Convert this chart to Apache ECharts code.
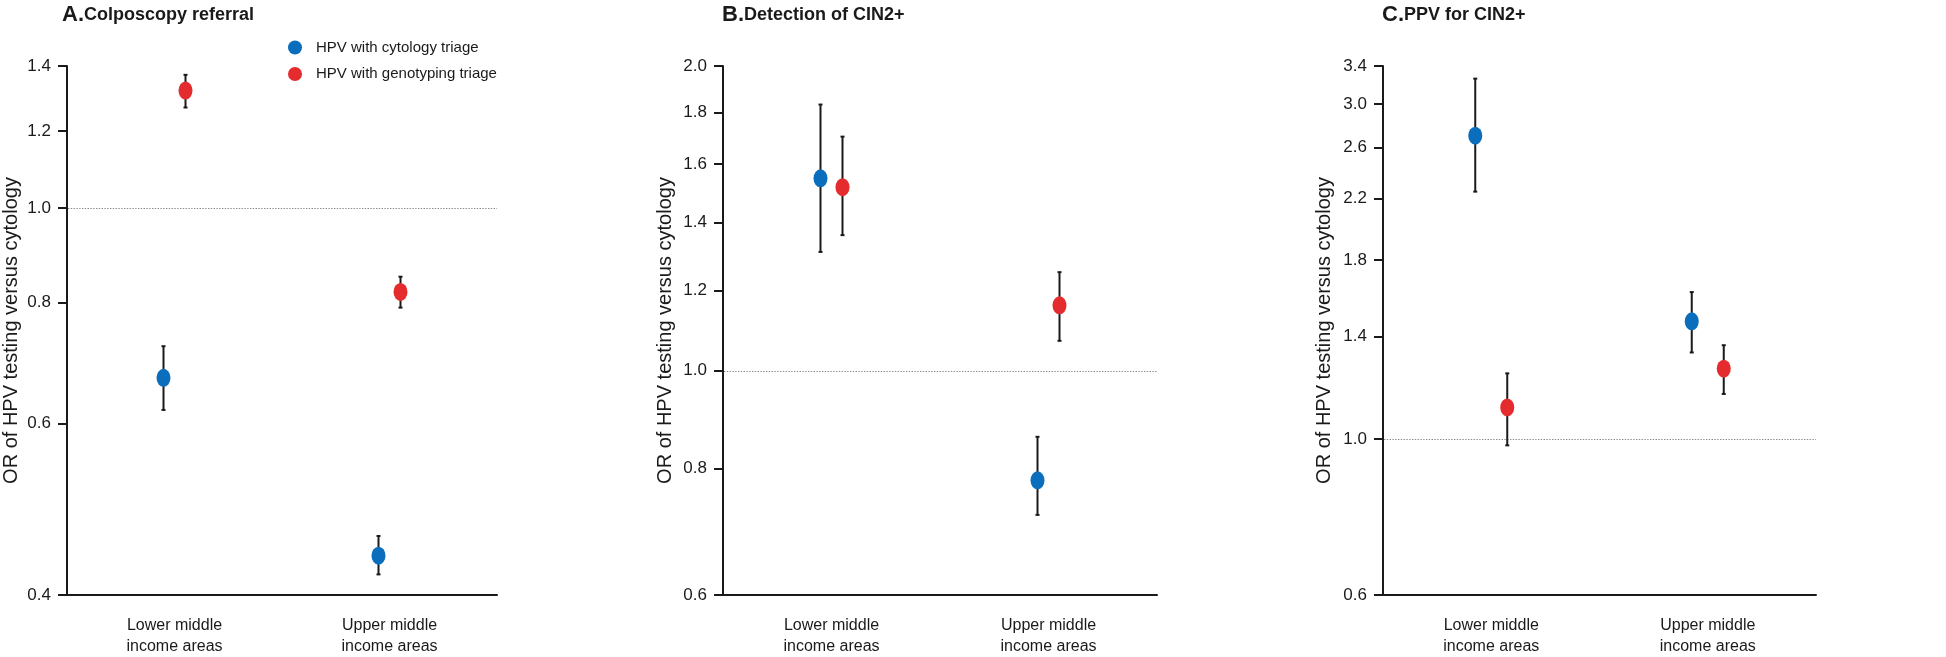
<!DOCTYPE html>
<html>
<head>
<meta charset="utf-8">
<script src="https://cdn.jsdelivr.net/npm/echarts@6/dist/echarts.min.js"></script>
<style>
html,body{margin:0;padding:0;background:#fff;}
#chart{width:1946px;height:657px;}
</style>
</head>
<body>
<div id="chart"></div>
<script>
// ---------- DATA ----------
const categories = ['Lower middle\nincome areas', 'Upper middle\nincome areas'];
const seriesNames = ['HPV with cytology triage', 'HPV with genotyping triage'];
const panelTitles = ['A.', 'B.', 'C.'];
const panelSubtitles = ['Colposcopy referral', 'Detection of CIN2+', 'PPV for CIN2+'];
const yAxisName = 'OR of HPV testing versus cytology';
const refValue = 1.0;

// Panel A: Colposcopy referral
const aTicks = [0.4, 0.6, 0.8, 1.0, 1.2, 1.4];
const aCytoOR = [0.669, 0.439];
const aCytoLo = [0.620, 0.420];
const aCytoHi = [0.721, 0.460];
const aGenoOR = [1.321, 0.820];
const aGenoLo = [1.269, 0.790];
const aGenoHi = [1.371, 0.850];

// Panel B: Detection of CIN2+
const bTicks = [0.6, 0.8, 1.0, 1.2, 1.4, 1.6, 1.8, 2.0];
const bCytoOR = [1.549, 0.779];
const bCytoLo = [1.310, 0.720];
const bCytoHi = [1.832, 0.860];
const bGenoOR = [1.518, 1.160];
const bGenoLo = [1.361, 1.070];
const bGenoHi = [1.703, 1.251];

// Panel C: PPV for CIN2+
const cTicks = [0.6, 1.0, 1.4, 1.8, 2.2, 2.6, 3.0, 3.4];
const cCytoOR = [2.706, 1.472];
const cCytoLo = [2.252, 1.329];
const cCytoHi = [3.262, 1.620];
const cGenoOR = [1.110, 1.260];
const cGenoLo = [0.980, 1.160];
const cGenoHi = [1.241, 1.361];

// ---------- LAYOUT / STYLE ----------
const colors = ['#0a6ebd', '#e42b2e'];
const gridLefts = [63, 723, 1383];
const gridWidths = [434, 434, 433];
const gridTop = 66;
const gridHeight = 532;
const dodges = [[-11, 11], [-11, 11], [-16, 16]];
const nameGaps = [46, 48, 49];
const ellipse = 'path://M0 10A10 10 0 1 0 20 10A10 10 0 1 0 0 10Z';
const font = 'Liberation Sans';
const ink = '#1a1a1a';

const panels = [
  {ticks: aTicks, groups: [[aCytoOR, aCytoLo, aCytoHi], [aGenoOR, aGenoLo, aGenoHi]]},
  {ticks: bTicks, groups: [[bCytoOR, bCytoLo, bCytoHi], [bGenoOR, bGenoLo, bGenoHi]]},
  {ticks: cTicks, groups: [[cCytoOR, cCytoLo, cCytoHi], [cGenoOR, cGenoLo, cGenoHi]]}
];

const ln = Math.log;
const grids = [], xAxes = [], yAxes = [], series = [], titles = [];

panels.forEach((p, i) => {
  grids.push({left: gridLefts[i], top: gridTop, width: gridWidths[i], height: gridHeight});
  titles.push({
    left: gridLefts[i] - 1, top: 0, padding: 0,
    text: '{a|' + panelTitles[i] + '}{b|' + panelSubtitles[i] + '}',
    textStyle: {
      rich: {
        a: {fontFamily: font, fontWeight: 'bold', fontSize: 22, color: ink, verticalAlign: 'middle', lineHeight: 30},
        b: {fontFamily: font, fontWeight: 'bold', fontSize: 18, color: ink, verticalAlign: 'middle', lineHeight: 30}
      }
    }
  });
  xAxes.push({
    type: 'category', gridIndex: i, data: categories, boundaryGap: true,
    axisLine: {onZero: false, lineStyle: {color: ink, width: 2}},
    axisTick: {alignWithLabel: true, length: 11, lineStyle: {color: ink, width: 2}},
    axisLabel: {fontFamily: font, fontSize: 16, color: ink, margin: 20, lineHeight: 21},
    splitLine: {show: false}
  });
  const tv = p.ticks.map(ln);
  yAxes.push({
    type: 'value', gridIndex: i,
    min: ln(p.ticks[0]), max: ln(p.ticks[p.ticks.length - 1]),
    name: yAxisName, nameLocation: 'middle', nameRotate: 90, nameGap: nameGaps[i],
    nameTextStyle: {fontFamily: font, fontSize: 20, color: ink},
    axisLine: {show: true, onZero: false, lineStyle: {color: ink, width: 2}},
    axisTick: {show: true, length: 9, customValues: tv, lineStyle: {color: ink, width: 2}},
    axisLabel: {
      customValues: tv, fontFamily: font, fontSize: 17, color: ink, margin: 16,
      formatter: v => Math.exp(v).toFixed(1)
    },
    splitLine: {show: false}
  });
  p.groups.forEach((g, gi) => {
    const [or, lo, hi] = g;
    const dx = dodges[i][gi];
    series.push({
      type: 'custom', name: seriesNames[gi], xAxisIndex: i, yAxisIndex: i, z: 2,
      data: categories.map((c, k) => [k, ln(lo[k]), ln(hi[k])]),
      encode: {x: 0, y: [1, 2]},
      renderItem: (params, api) => {
        const a = api.coord([api.value(0), api.value(1)]);
        const b = api.coord([api.value(0), api.value(2)]);
        const x = a[0] + dx;
        const st = {stroke: ink, lineWidth: 2};
        const children = [
          {type: 'line', shape: {x1: x, y1: a[1], x2: x, y2: b[1]}, style: st},
          {type: 'line', shape: {x1: x - 2, y1: a[1], x2: x + 2, y2: a[1]}, style: st},
          {type: 'line', shape: {x1: x - 2, y1: b[1], x2: x + 2, y2: b[1]}, style: st}
        ];
        if (gi === 0 && params.dataIndex === 0) {
          const cs = params.coordSys;
          const yr = Math.round(api.coord([0, ln(refValue)])[1]) + 0.5;
          children.unshift({
            type: 'line', z2: -1,
            shape: {x1: cs.x + 1, y1: yr, x2: cs.x + cs.width, y2: yr},
            style: {stroke: '#8a8a8a', lineWidth: 1, lineDash: [1.4, 1.4]}
          });
        }
        return {type: 'group', children: children};
      }
    });
    series.push({
      type: 'scatter', name: seriesNames[gi], xAxisIndex: i, yAxisIndex: i, z: 3,
      data: categories.map((c, k) => [k, ln(or[k])]),
      symbol: ellipse, symbolKeepAspect: false, symbolSize: [14, 18], symbolOffset: [dx, 0],
      itemStyle: {color: colors[gi], opacity: 1}
    });
  });
});

const chart = echarts.init(document.getElementById('chart'), null, {renderer: 'canvas'});
chart.setOption({
  animation: false,
  backgroundColor: '#fff',
  color: colors,
  title: titles,
  legend: {
    data: seriesNames.map(n => ({name: n, icon: ellipse, itemStyle: {color: colors[seriesNames.indexOf(n)]}})),
    orient: 'vertical', left: 288, top: 40, padding: 0,
    itemWidth: 14, itemHeight: 18, itemGap: 11.5,
    selectedMode: false,
    textStyle: {fontFamily: font, fontSize: 15, color: ink, padding: [0, 0, 0, 9]}
  },
  grid: grids,
  xAxis: xAxes,
  yAxis: yAxes,
  series: series
});
</script>
</body>
</html>
